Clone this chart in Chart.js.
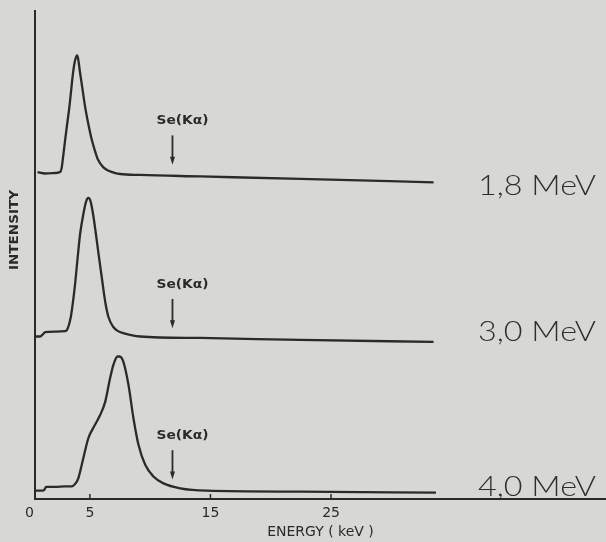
<!DOCTYPE html>
<html>
<head>
<meta charset="utf-8">
<title>Intensity vs energy</title>
<script src="https://cdn.jsdelivr.net/npm/chart.js@4.4.1/dist/chart.umd.min.js"></script>
<style>
  html, body { margin: 0; padding: 0; background: #d7d8d4; }
  canvas { display: block; }
</style>
</head>
<body>
<canvas id="spectraChart" width="606" height="542"></canvas>
<script>
// beam energy of each trace, top to bottom
const beamLabels = ['1,8 MeV', '3,0 MeV', '4,0 MeV'];
// vertical shift of each trace, same units as the intensities
const traceOffsets = [64.5, 31, 0];

const energy18 = [0.66, 1.29, 2.12, 2.53, 2.65, 2.80, 2.95, 3.12, 3.30, 3.45, 3.59, 3.73, 3.86, 3.94, 4.02, 4.19, 4.40, 4.61, 4.86, 5.16, 5.44, 5.68, 6.10, 6.51, 7.10, 7.51, 9.17, 14.15, 22.45, 33.5];
const counts18 = [2.5, 2.2, 2.3, 2.5, 3.2, 6.0, 9.1, 12.4, 15.8, 19.3, 22.5, 24.9, 26.1, 26.4, 25.8, 22.8, 19.3, 15.8, 12.5, 9.1, 6.7, 5.0, 3.5, 2.8, 2.3, 2.1, 1.9, 1.6, 1.1, 0.4];

const energy30 = [0.46, 0.87, 1.12, 1.29, 2.12, 2.95, 3.09, 3.24, 3.42, 3.61, 3.78, 4.00, 4.19, 4.46, 4.69, 4.88, 5.06, 5.29, 5.50, 5.71, 6.07, 6.30, 6.54, 6.93, 7.34, 7.76, 9.17, 14.15, 22.45, 33.5];
const counts30 = [2.3, 2.3, 2.8, 3.2, 3.3, 3.4, 3.6, 4.5, 6.3, 9.6, 13.2, 18.8, 23.3, 27.4, 30.0, 30.7, 30.0, 27.0, 23.3, 19.4, 12.9, 9.0, 6.3, 4.3, 3.4, 3.0, 2.3, 2.0, 1.6, 1.2];

const energy40 = [0.45, 0.87, 1.20, 1.37, 2.12, 2.95, 3.50, 3.78, 4.05, 4.46, 4.88, 5.29, 5.85, 6.27, 6.68, 6.95, 7.29, 7.47, 7.78, 8.20, 8.61, 9.03, 9.59, 10.27, 11.10, 12.49, 14.71, 22.45, 33.7];
const counts40 = [1.7, 1.7, 1.8, 2.5, 2.5, 2.6, 2.6, 3.1, 4.3, 8.4, 12.5, 14.6, 17.2, 19.9, 24.8, 27.5, 29.2, 29.2, 28.1, 23.4, 16.6, 11.1, 7.0, 4.6, 3.2, 2.2, 1.7, 1.5, 1.3];

const seKaEnergy = 11.85;
const xTickValues = [0, 5, 15, 25];

const ink = '#2a2a2a';

const spectra = [
    { energy: energy18, counts: counts18 },
    { energy: energy30, counts: counts30 },
    { energy: energy40, counts: counts40 }
];

// draw text squeezed/stretched to a given width
function drawFitted(ctx, text, x, y, width, font, align) {
    ctx.font = font;
    const w = ctx.measureText(text).width;
    const sx = width / w;
    ctx.save();
    ctx.translate(x, y);
    ctx.scale(sx, 1);
    ctx.textAlign = align;
    ctx.textBaseline = 'middle';
    ctx.fillText(text, 0, 0);
    ctx.restore();
}

const annotations = {
    id: 'annotations',
    afterDatasetsDraw(chart) {
        const { ctx, chartArea } = chart;
        const x = chart.scales.x;
        const y = chart.scales.y;
        ctx.save();
        ctx.strokeStyle = ink;
        ctx.fillStyle = ink;

        // small inward tick marks on the energy axis
        ctx.lineWidth = 1.5;
        xTickValues.filter(v => v > 0).forEach(v => {
            const px = x.getPixelForValue(v);
            ctx.beginPath();
            ctx.moveTo(px, y.bottom);
            ctx.lineTo(px, y.bottom - 5);
            ctx.stroke();
        });

        // Se(Ka) arrows above each trace
        traceOffsets.forEach(off => {
            const px = x.getPixelForValue(seKaEnergy);
            const top = y.getPixelForValue(off + 10);
            const tip = y.getPixelForValue(off + 4);
            ctx.lineWidth = 1.8;
            ctx.beginPath();
            ctx.moveTo(px, top);
            ctx.lineTo(px, tip - 6);
            ctx.stroke();
            ctx.beginPath();
            ctx.moveTo(px - 2.5, tip - 8);
            ctx.lineTo(px + 2.5, tip - 8);
            ctx.lineTo(px, tip);
            ctx.closePath();
            ctx.fill();
            drawFitted(ctx, 'Se(Kα)', px + 10, y.getPixelForValue(off + 12.9), 52,
                'bold 12px "DejaVu Sans"', 'center');
        });

        // axis title on the left
        ctx.save();
        ctx.translate(15, chartArea.top + 219);
        ctx.rotate(-Math.PI / 2);
        drawFitted(ctx, 'INTENSITY', 0, 0, 80, 'bold 12px "DejaVu Sans"', 'center');
        ctx.restore();

        // hand written beam energies
        const nudge = [10, -7, -3];
        ctx.fillStyle = '#2e2e2e';
        beamLabels.forEach((label, i) => {
            const py = y.getPixelForValue(traceOffsets[i] + 1.7) + nudge[i];
            drawFitted(ctx, label, 596, py, 118, '300 27px Lato', 'right');
        });
        ctx.restore();
    }
};

new Chart(document.getElementById('spectraChart'), {
    type: 'line',
    data: {
        datasets: spectra.map((s, i) => ({
            label: beamLabels[i],
            data: s.energy.map((e, k) => ({ x: e, y: traceOffsets[i] + s.counts[k] })),
            borderColor: ink,
            borderWidth: 2.3,
            pointRadius: 0,
            fill: false,
            cubicInterpolationMode: 'monotone'
        }))
    },
    options: {
        responsive: false,
        animation: false,
        layout: { padding: { top: 11, left: 0, right: 0, bottom: 0 } },
        plugins: {
            legend: { display: false },
            tooltip: { enabled: false }
        },
        scales: {
            x: {
                type: 'linear',
                min: 0.45,
                max: 47.8,
                afterBuildTicks: scale => { scale.ticks = xTickValues.map(v => ({ value: v })); },
                afterFit: scale => { scale.height = 43; },
                grid: { display: false, drawTicks: false },
                border: { display: true, color: ink, width: 2 },
                ticks: {
                    autoSkip: false,
                    maxRotation: 0,
                    padding: 6,
                    color: ink,
                    font: { family: 'DejaVu Sans', size: 14 }
                },
                title: {
                    display: true,
                    text: 'ENERGY ( keV )',
                    color: ink,
                    font: { family: 'DejaVu Sans', size: 14 },
                    padding: { top: 0, bottom: 1 }
                }
            },
            y: {
                min: 0,
                max: 100,
                afterFit: scale => { scale.width = 35; },
                grid: { display: false, drawTicks: false },
                border: { display: true, color: ink, width: 2 },
                ticks: { display: false }
            }
        }
    },
    plugins: [annotations]
});
</script>
</body>
</html>
